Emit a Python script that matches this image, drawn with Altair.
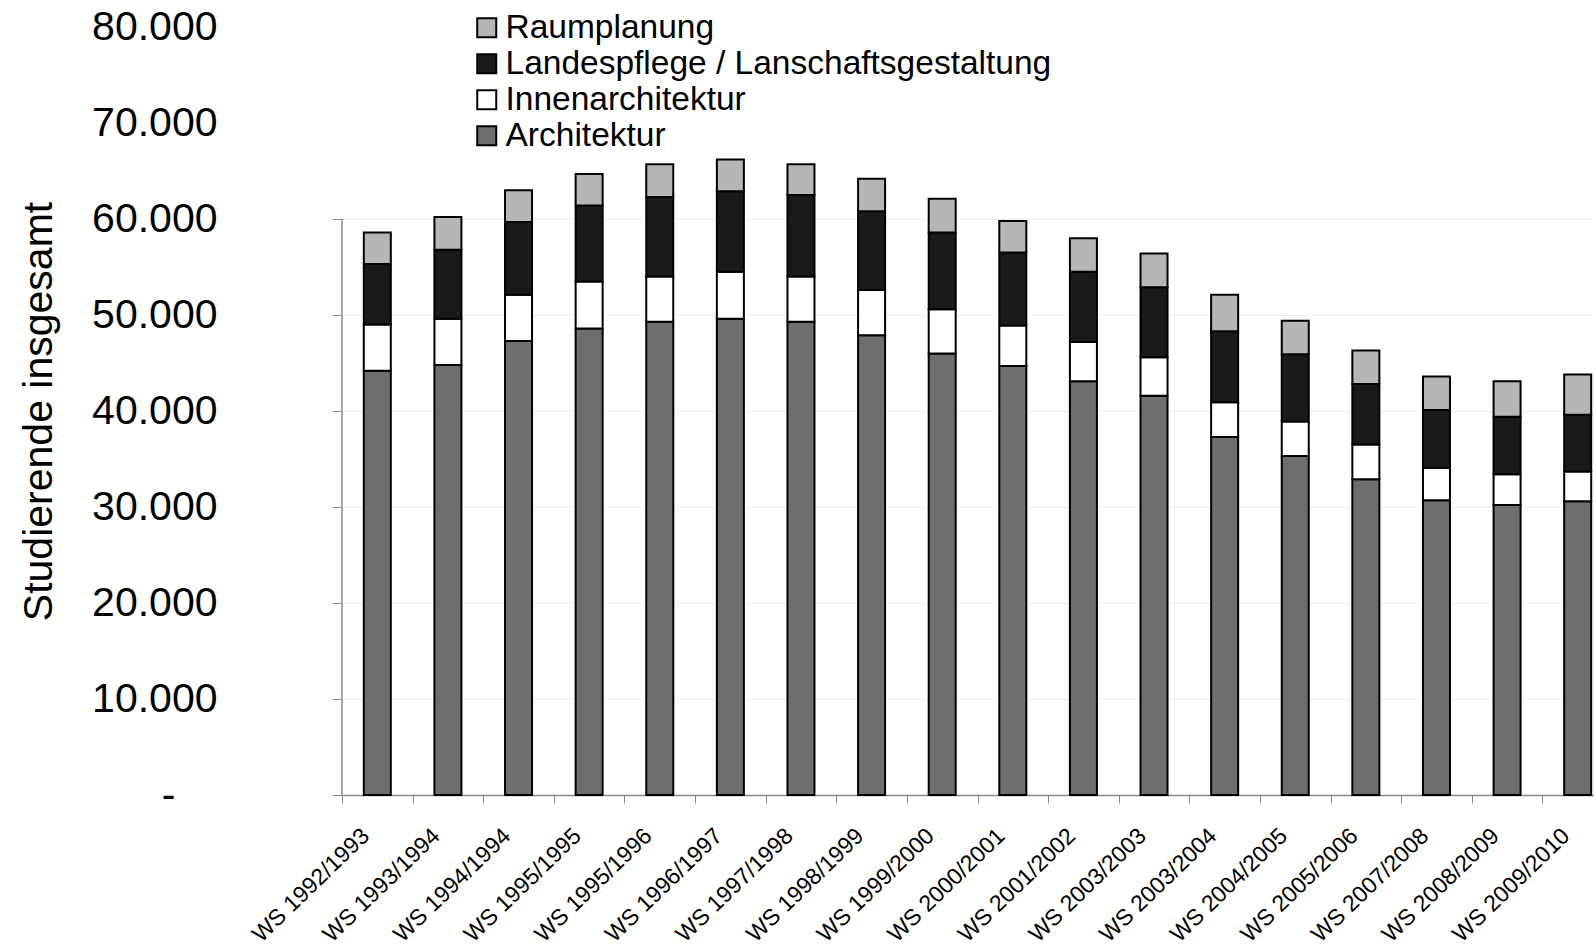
import altair as alt
import pandas as pd

categories = ["WS 1992/1993", "WS 1993/1994", "WS 1994/1994", "WS 1995/1995", "WS 1995/1996",
              "WS 1996/1997", "WS 1997/1998", "WS 1998/1999", "WS 1999/2000", "WS 2000/2001",
              "WS 2001/2002", "WS 2003/2003", "WS 2003/2004", "WS 2004/2005", "WS 2005/2006",
              "WS 2007/2008", "WS 2008/2009", "WS 2009/2010"]

architektur = [44200, 44800, 47300, 48600, 49300, 49600, 49300, 47900, 46000, 44700,
               43100, 41600, 37300, 35300, 32900, 30700, 30200, 30600]
innenarchitektur = [4800, 4800, 4800, 4900, 4700, 4900, 4700, 4700, 4600, 4200,
                    4100, 4000, 3600, 3600, 3600, 3400, 3200, 3100]
landespflege = [6300, 7200, 7600, 7900, 8300, 8400, 8500, 8200, 8000, 7600,
                7300, 7300, 7400, 7000, 6300, 6000, 6000, 5900]
raumplanung = [3300, 3400, 3300, 3300, 3400, 3300, 3200, 3400, 3500, 3300,
               3500, 3500, 3800, 3500, 3500, 3500, 3700, 4200]

series_names = ["Architektur", "Innenarchitektur",
                "Landespflege / Lanschaftsgestaltung", "Raumplanung"]
series_values = [architektur, innenarchitektur, landespflege, raumplanung]
series_colors = {"Raumplanung": "#b6b6b6",
                 "Landespflege / Lanschaftsgestaltung": "#1a1a1a",
                 "Innenarchitektur": "#ffffff",
                 "Architektur": "#6e6e6e"}
legend_order = ["Raumplanung", "Landespflege / Lanschaftsgestaltung",
                "Innenarchitektur", "Architektur"]
y_ticks = [0, 10000, 20000, 30000, 40000, 50000, 60000, 70000, 80000]

rows = []
for k, (name, vals) in enumerate(zip(series_names, series_values)):
    for c, v in zip(categories, vals):
        rows.append({"cat": c, "series": name, "value": v, "ord": k})
df = pd.DataFrame(rows)

FONT = "Liberation Sans"
GRAY = "#8a8a8a"

bars = alt.Chart(df).mark_bar(width=27, stroke="black", strokeWidth=2).encode(
    x=alt.X("cat:N", sort=categories,
            scale=alt.Scale(range=[0, 1271], paddingInner=0, paddingOuter=0),
            axis=alt.Axis(title=None, labelAngle=-44, labelFontSize=23, labelAlign="right",
                          labelBaseline="middle", labelPadding=29, labelOffset=-12, tickSize=8,
                          tickBand="extent", labelOverlap=False, labelLimit=1000,
                          labelColor="black", domainColor=GRAY, tickColor=GRAY,
                          domainWidth=1.5, labelFont=FONT)),
    y=alt.Y("value:Q", stack="zero",
            scale=alt.Scale(domain=[0, 80000], nice=False),
            axis=alt.Axis(values=y_ticks, title="Studierende insgesamt", titleFontSize=41,
                          titleFontWeight="normal", titleColor="black", titleFont=FONT,
                          titleX=-303, titleY=384, titleAlign="center",
                          titleBaseline="middle", titleAngle=270,
                          labelFontSize=41, labelColor="black", labelFont=FONT,
                          labelPadding={"condition": {"test": "datum.value == 0", "value": 157},
                                        "value": 115},
                          tickSize=10, domain=False,
                          labelExpr="datum.value == 0 ? '-' : replace(format(datum.value, ','), ',', '.')",
                          tickColor={"condition": {"test": "datum.value <= 60000", "value": GRAY},
                                     "value": "transparent"},
                          grid=True,
                          gridColor={"condition": {"test": "datum.value <= 60000 && datum.value > 0",
                                                   "value": "#efefef"},
                                     "value": "transparent"})),
    color=alt.Color("series:N",
                    scale=alt.Scale(domain=legend_order,
                                    range=[series_colors[s] for s in legend_order]),
                    legend=alt.Legend(title=None, orient="none", legendX=128, legendY=-16,
                                      symbolType="square", symbolSize=361,
                                      symbolStrokeColor="black", symbolStrokeWidth=2,
                                      symbolOpacity=1, labelFontSize=33.5, labelColor="black",
                                      labelFont=FONT, labelOffset=2, rowPadding=1,
                                      padding=0, labelLimit=1000)),
    order=alt.Order("ord:Q", sort="ascending"),
)

axis_line = alt.Chart(pd.DataFrame({"a": [0]})).mark_rule(color=GRAY, strokeWidth=1.5).encode(
    x=alt.value(0), y=alt.datum(0), y2=alt.datum(60000)
)

chart = alt.layer(bars, axis_line).properties(
    width=1252, height=768,
    autosize=alt.AutoSizeParams(type="none"),
    padding={"left": 342, "top": 27, "right": 0, "bottom": 152},
    background="white",
).configure(font=FONT).configure_view(strokeWidth=0, stroke="transparent")

chart.save("out.html", embed_options={"renderer": "svg", "actions": False})
